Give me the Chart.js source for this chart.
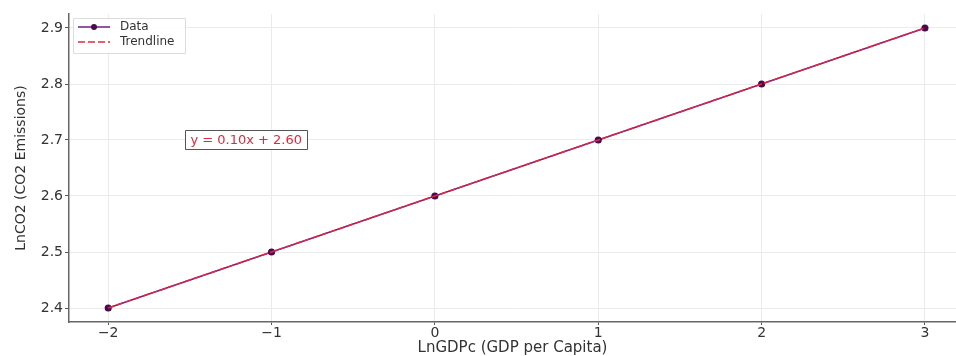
<!DOCTYPE html>
<html>
<head>
<meta charset="utf-8">
<script src="https://cdn.jsdelivr.net/npm/chart.js@4.4.1/dist/chart.umd.min.js"></script>
<style>
  html, body { margin: 0; padding: 0; background: #ffffff; }
  #wrap { width: 956px; height: 356px; position: relative; }
</style>
</head>
<body>
<div id="wrap"><canvas id="c" width="956" height="356"></canvas></div>
<script>
// LnGDPc values and observed LnCO2 values
const lnGDPc = [-2, -1, 0, 1, 2, 3];
const lnCO2 = [2.4, 2.5, 2.6, 2.7, 2.8, 2.9];
// Fitted line: y = 0.10x + 2.60
const trendValues = [2.4, 2.5, 2.6, 2.7, 2.8, 2.9];
const equationLabel = 'y = 0.10x + 2.60';
const equationAt = { x: -1.5, y: 2.7 };
const xTicks = [-2, -1, 0, 1, 2, 3];
const yTicks = [2.4, 2.5, 2.6, 2.7, 2.8, 2.9];

const FONT = "'DejaVu Sans', sans-serif";
const DATA_COLOR = '#6a1f86';
const TREND_COLOR = '#e2283e';

const dataPts = lnGDPc.map((x, i) => ({ x, y: lnCO2[i] }));
const trendPts = lnGDPc.map((x, i) => ({ x, y: trendValues[i] }));

// Legend box in the top-left corner of the plot area
const innerLegend = {
  id: 'innerLegend',
  afterDatasetsDraw(chart) {
    const { ctx, chartArea } = chart;
    const x0 = chartArea.left + 4, y0 = chartArea.top + 4;
    const w = 112, h = 35;
    ctx.save();
    ctx.fillStyle = 'rgba(255,255,255,0.85)';
    ctx.strokeStyle = '#dddddd';
    ctx.lineWidth = 1;
    ctx.beginPath();
    ctx.rect(x0 + 0.5, y0 + 0.5, w, h);
    ctx.fill();
    ctx.stroke();
    ctx.font = '12px ' + FONT;
    ctx.textBaseline = 'middle';
    // Data entry
    let ly = y0 + 9;
    ctx.strokeStyle = DATA_COLOR;
    ctx.lineWidth = 1.5;
    ctx.beginPath(); ctx.moveTo(x0 + 5, ly); ctx.lineTo(x0 + 37, ly); ctx.stroke();
    ctx.fillStyle = '#4a0a4e';
    ctx.beginPath(); ctx.arc(x0 + 21, ly, 3, 0, Math.PI * 2); ctx.fill();
    ctx.fillStyle = '#333333';
    ctx.fillText('Data', x0 + 47, ly);
    // Trendline entry
    ly = y0 + 24;
    ctx.strokeStyle = TREND_COLOR;
    ctx.setLineDash([7, 3]);
    ctx.beginPath(); ctx.moveTo(x0 + 5, ly); ctx.lineTo(x0 + 37, ly); ctx.stroke();
    ctx.setLineDash([]);
    ctx.fillText('Trendline', x0 + 47, ly);
    ctx.restore();
  }
};

// Boxed equation label placed in data coordinates
const equationBox = {
  id: 'equationBox',
  afterDatasetsDraw(chart) {
    const { ctx, scales } = chart;
    const px = scales.x.getPixelForValue(equationAt.x) - 5;
    const py = scales.y.getPixelForValue(equationAt.y);
    ctx.save();
    ctx.font = '13px ' + FONT;
    const tw = ctx.measureText(equationLabel).width;
    const pad = 5;
    ctx.fillStyle = '#ffffff';
    ctx.strokeStyle = '#555555';
    ctx.lineWidth = 1;
    ctx.beginPath();
    ctx.rect(Math.round(px) + 0.5, Math.round(py - 10) + 0.5, Math.round(tw + pad * 2), 19);
    ctx.fill();
    ctx.stroke();
    ctx.fillStyle = TREND_COLOR;
    ctx.textBaseline = 'middle';
    ctx.fillText(equationLabel, px + pad + 0.5, py + 0.5);
    ctx.restore();
  }
};

new Chart(document.getElementById('c'), {
  type: 'scatter',
  data: {
    datasets: [
      {
        label: 'Data',
        data: dataPts,
        showLine: true,
        borderColor: DATA_COLOR,
        borderWidth: 1.5,
        pointBackgroundColor: '#4a0a4e',
        pointBorderColor: '#4a0a4e',
        pointRadius: 2.8,
        order: 2
      },
      {
        label: 'Trendline',
        data: trendPts,
        showLine: true,
        borderColor: TREND_COLOR,
        borderWidth: 1.5,
        borderDash: [7, 2],
        pointRadius: 0,
        order: 1
      }
    ]
  },
  options: {
    responsive: false,
    animation: false,
    layout: { autoPadding: false, padding: { top: 14, right: 0, bottom: 0, left: 0 } },
    plugins: {
      legend: { display: false },
      tooltip: { enabled: false }
    },
    scales: {
      x: {
        type: 'linear',
        min: -2.24,
        max: 3.19,
        afterBuildTicks(scale) { scale.ticks = xTicks.map(v => ({ value: v })); },
        afterFit(scale) {
          scale.height = 34;
          scale.paddingLeft = 0;
          scale.paddingRight = 0;
        },
        ticks: {
          color: '#333333',
          font: { family: FONT, size: 14 },
          padding: 0,
          maxRotation: 0,
          callback: v => (v < 0 ? '\u2212' + Math.abs(v) : String(v))
        },
        grid: { color: '#ebebeb', lineWidth: 1, tickLength: 3, tickColor: '#555555' },
        border: { color: '#666666', width: 1.5 },
        title: {
          display: true,
          text: 'LnGDPc (GDP per Capita)',
          color: '#333333',
          font: { family: FONT, size: 15, lineHeight: 1 },
          padding: { top: 0, bottom: 0 }
        }
      },
      y: {
        type: 'linear',
        min: 2.375,
        max: 2.925,
        afterBuildTicks(scale) { scale.ticks = yTicks.map(v => ({ value: v })); },
        afterFit(scale) {
          scale.width = 69;
          scale.paddingTop = 0;
          scale.paddingBottom = 0;
        },
        ticks: {
          color: '#333333',
          font: { family: FONT, size: 14 },
          padding: 2,
          callback: v => Number(v).toFixed(1)
        },
        grid: { color: '#ebebeb', lineWidth: 1, tickLength: 4, tickColor: '#555555' },
        border: { color: '#666666', width: 1.5 },
        title: {
          display: true,
          text: 'LnCO2 (CO2 Emissions)',
          color: '#333333',
          font: { family: FONT, size: 14, lineHeight: 1 },
          padding: { top: 14, bottom: 0 }
        }
      }
    }
  },
  plugins: [innerLegend, equationBox]
});
</script>
</body>
</html>
